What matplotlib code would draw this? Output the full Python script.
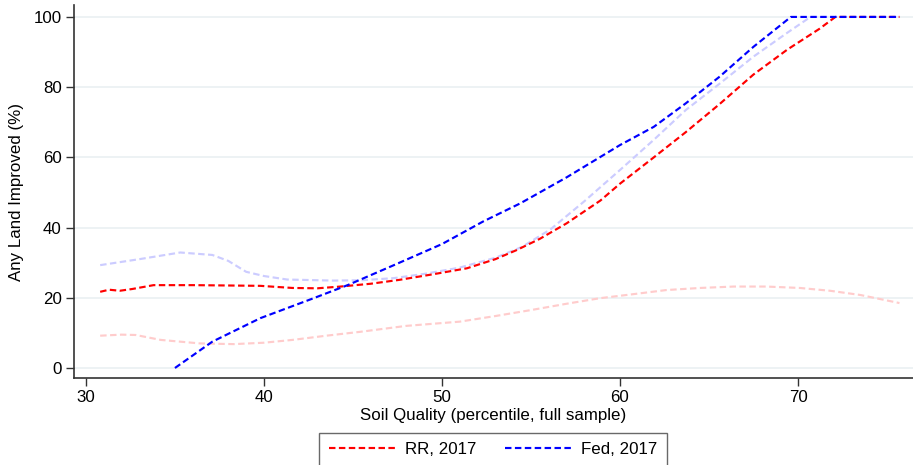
import matplotlib
matplotlib.use("Agg")
import matplotlib.pyplot as plt

plt.rcParams['font.family'] = ['Liberation Sans', 'DejaVu Sans']

# Faint red (other RR year)
pink_x = [30.8, 32.0, 32.8, 34.2, 36.4, 38.3, 40.0, 41.6, 43.5, 45.4, 48.0, 51.0, 53.0, 55.0, 57.0, 58.9, 60.7, 62.6, 64.5, 66.4, 68.2, 70.1, 71.8, 73.5, 75.7]
pink_y = [9.2, 9.5, 9.4, 8.0, 7.0, 6.8, 7.2, 8.0, 9.2, 10.3, 12.0, 13.2, 14.8, 16.5, 18.3, 19.9, 21.0, 22.2, 22.8, 23.2, 23.2, 22.8, 22.0, 20.8, 18.5]

# Faint blue (other Fed year)
lblue_x = [30.8, 33.0, 35.3, 37.1, 38.0, 39.0, 40.0, 41.3, 43.9, 45.5, 47.3, 49.0, 51.0, 53.0, 54.5, 56.1, 58.0, 60.0, 61.9, 63.7, 65.6, 67.5, 69.4, 70.7, 75.7]
lblue_y = [29.3, 31.0, 32.9, 32.2, 30.5, 27.4, 26.2, 25.2, 24.9, 25.0, 25.6, 26.8, 28.6, 31.4, 34.5, 39.5, 47.5, 56.4, 65.0, 73.5, 81.0, 88.7, 95.5, 100.0, 100.0]

# RR, 2017
rr_x = [30.8, 31.3, 31.9, 32.6, 33.8, 36.0, 38.0, 39.8, 41.6, 43.0, 44.3, 46.0, 47.6, 49.5, 51.4, 53.0, 54.2, 55.5, 57.0, 58.9, 60.0, 61.9, 63.7, 65.6, 67.5, 69.4, 71.2, 72.1, 75.7]
rr_y = [21.7, 22.3, 22.0, 22.5, 23.6, 23.6, 23.5, 23.4, 22.8, 22.7, 23.2, 24.0, 25.1, 26.7, 28.4, 31.0, 33.6, 36.8, 41.2, 47.7, 52.5, 60.0, 67.2, 75.2, 83.6, 90.7, 96.6, 100.0, 100.0]

# Fed, 2017
fed_x = [35.0, 37.1, 39.8, 42.8, 44.7, 47.3, 50.0, 52.3, 54.4, 57.0, 60.0, 61.9, 63.7, 65.6, 67.5, 69.6, 75.7]
fed_y = [0.0, 7.5, 14.2, 19.9, 23.6, 29.3, 35.3, 41.7, 46.9, 54.3, 63.5, 68.7, 75.4, 83.0, 91.5, 100.0, 100.0]

x_ticks = [30, 40, 50, 60, 70]
y_ticks = [0, 20, 40, 60, 80, 100]

fig = plt.figure(figsize=(9.13, 4.65), dpi=100)
ax = fig.add_axes([74/913, 1-378/465, 1-74/913, (378-5)/465])

lw = 1.55
dash = (3, 1.6)
ax.plot(pink_x, pink_y, color='#ffcccc', lw=lw, dashes=dash, zorder=2)
ax.plot(lblue_x, lblue_y, color='#ccccff', lw=lw, dashes=dash, zorder=2)
ax.plot(rr_x, rr_y, color='#ff0000', lw=lw, dashes=dash, label='RR, 2017', zorder=3)
ax.plot(fed_x, fed_y, color='#0000ff', lw=lw, dashes=dash, label='Fed, 2017', zorder=3)

ax.set_xlim(29.33, 76.46)
ax.set_ylim(-2.85, 103.4)
ax.set_xticks(x_ticks)
ax.set_yticks(y_ticks)
ax.yaxis.grid(True, color='#eaf0f2', lw=1.2)
ax.set_axisbelow(True)
for s in ['top', 'right']:
    ax.spines[s].set_visible(False)
for s in ['left', 'bottom']:
    ax.spines[s].set_color('#333333')
    ax.spines[s].set_linewidth(1.2)
fs = 12.2
ax.tick_params(axis='both', length=6, width=1, color='#333333', labelsize=fs, pad=3)
ax.set_xlabel('Soil Quality (percentile, full sample)', fontsize=fs, labelpad=2)
ax.set_ylabel('Any Land Improved (%)', fontsize=fs, labelpad=7)

leg = fig.legend(loc='upper center', bbox_to_anchor=(493/913, 1-433/465), ncol=2,
                 fontsize=fs, frameon=True, fancybox=False, edgecolor='#444444',
                 handlelength=3.9, columnspacing=1.7, borderpad=0.55, handletextpad=0.6,
                 borderaxespad=0)
leg.get_frame().set_linewidth(1.0)

fig.savefig('out.png', dpi=100)
